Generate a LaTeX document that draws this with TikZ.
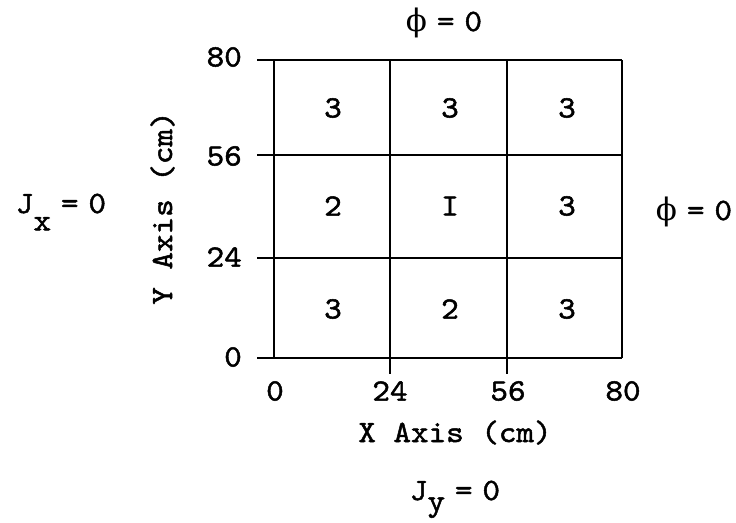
\documentclass[tikz,border=0pt]{standalone}
\usepackage{fontspec}
\newfontfamily\tw{lmmono10-regular.otf}[FakeStretch=1.08,FakeBold=1.6]
\newfontfamily\grk{DejaVu Serif}
\newcommand{\hs}{\hspace{0.32em}}
\begin{document}
\begin{tikzpicture}[x=1pt,y=-1pt,
  every node/.style={font=\tw\fontsize{31}{36}\selectfont, inner sep=0pt},
  gridline/.style={line width=1.8pt},
  ylab/.style={anchor=east},
  xlab/.style={anchor=center},
  cell/.style={anchor=center}]
\useasboundingbox (0,0) rectangle (736,522);
% grid corners
\coordinate (x0) at (274,0); \coordinate (x1) at (390,0);
\coordinate (x2) at (507,0); \coordinate (x3) at (622,0);
\coordinate (y0) at (0,358); \coordinate (y1) at (0,258);
\coordinate (y2) at (0,155); \coordinate (y3) at (0,60);
% vertical lines
\foreach \i in {0,1,2,3}{
  \draw[gridline] (x\i |- y0) -- (x\i |- y3);
}
% horizontal lines with left ticks
\foreach \j in {0,1,2,3}{
  \coordinate (t\j) at (257,0);
  \draw[gridline] (t\j |- y\j) -- (x3 |- y\j);
}
% bottom ticks
\coordinate (bt) at (0,374);
\draw[gridline] (x1 |- y0) -- (x1 |- bt);
\draw[gridline] (x2 |- y0) -- (x2 |- bt);
% y tick labels
\node[ylab] (l0) at (242,357) {0};
\node[ylab] (l24) at (242,257) {24};
\node[ylab] (l56) at (242,156) {56};
\node[ylab] (l80) at (242,57) {80};
% x tick labels
\node[xlab] (b0) at (275,391) {0};
\node[xlab] (b24) at (390,391) {24};
\node[xlab] (b56) at (508,391) {56};
\node[xlab] (b80) at (623,391) {80};
% cell labels
\node[cell] (c11) at (333,108) {3};
\node[cell] (c12) at (450,108) {3};
\node[cell] (c13) at (567,108) {3};
\node[cell] (c21) at (333,206) {2};
\node[cell] (c22) at (450,206) {I};
\node[cell] (c23) at (567,206) {3};
\node[cell] (c31) at (333,309) {3};
\node[cell] (c32) at (450,309) {2};
\node[cell] (c33) at (567,309) {3};
% axis titles
\node[anchor=base] (xt) at (455,442) {X Axis (cm)};
\node[anchor=base, rotate=90] (yt) at (172,208) {Y Axis (cm)};
% boundary conditions
\node[anchor=base] (top) at (444,31) {{\grk ϕ}\hs=\hs0};
\node[anchor=base] (right) at (694,220) {{\grk ϕ}\hs=\hs0};
\node[anchor=base] (left) at (61,213) {J\raisebox{-0.56em}{x}\hs=\hs0};
\node[anchor=base] (bot) at (455,500) {J\raisebox{-0.35em}{y}\hs=\hs0};
\end{tikzpicture}
\end{document}
